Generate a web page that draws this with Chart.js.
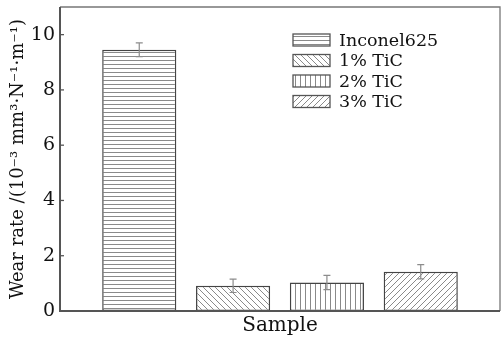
<!DOCTYPE html>
<html>
<head>
<meta charset="utf-8">
<script src="https://cdn.jsdelivr.net/npm/chart.js@4"></script>
<style>
  html, body { margin: 0; padding: 0; background: #fff; }
  #wrap { width: 503px; height: 342px; }
</style>
</head>
<body>
<div id="wrap"><canvas id="wearChart"></canvas></div>
<script>
// data
const categories = ['Sample'];
const seriesLabels = ['Inconel625', '1% TiC', '2% TiC', '3% TiC'];
const wearRate = [9.45, 0.91, 1.03, 1.42];
const wearError = [0.25, 0.24, 0.26, 0.26];
const patternKinds = ['horizontal', 'backslash', 'vertical', 'slash'];

const FONT = '"DejaVu Serif", "Liberation Serif", serif';

/**
 * Builds a small hatch tile and returns it as a canvas pattern.
 */
function makePattern(kind) {
    const size = kind === 'horizontal' ? 4 : (kind === 'vertical' ? 5 : 6);
    const c = document.createElement('canvas');
    c.width = size;
    c.height = size;
    const g = c.getContext('2d');
    g.fillStyle = '#fff';
    g.fillRect(0, 0, size, size);
    g.strokeStyle = '#8a8a8a';
    g.lineWidth = 1;
    g.beginPath();
    if (kind === 'horizontal') {
        g.moveTo(0, 0.5); g.lineTo(size, 0.5);
    } else if (kind === 'vertical') {
        g.moveTo(0.5, 0); g.lineTo(0.5, size);
    } else if (kind === 'backslash') {
        g.moveTo(-1, -1); g.lineTo(size + 1, size + 1);
        g.moveTo(-1, size - 1); g.lineTo(1, size + 1);
        g.moveTo(size - 1, -1); g.lineTo(size + 1, 1);
    } else {
        g.moveTo(-1, size + 1); g.lineTo(size + 1, -1);
        g.moveTo(-1, 1); g.lineTo(1, -1);
        g.moveTo(size - 1, size + 1); g.lineTo(size + 1, size - 1);
    }
    g.stroke();
    return g.createPattern(c, 'repeat');
}

// error bars, inward ticks, frame and the boxed legend
const decorPlugin = {
    id: 'decor',
    afterDatasetsDraw(chart) {
        const ctx = chart.ctx;
        const y = chart.scales.y;
        ctx.save();
        ctx.strokeStyle = '#8c8c8c';
        ctx.lineWidth = 1.2;
        chart.data.datasets.forEach((ds, i) => {
            const bar = chart.getDatasetMeta(i).data[0];
            const v = ds.data[0];
            const e = wearError[i];
            const top = y.getPixelForValue(v + e);
            const bot = y.getPixelForValue(v - e);
            ctx.beginPath();
            ctx.moveTo(bar.x, top); ctx.lineTo(bar.x, bot);
            ctx.moveTo(bar.x - 3.5, top); ctx.lineTo(bar.x + 3.5, top);
            ctx.moveTo(bar.x - 3.5, bot); ctx.lineTo(bar.x + 3.5, bot);
            ctx.stroke();
        });
        ctx.restore();
    },
    afterDraw(chart) {
        const ctx = chart.ctx;
        const a = chart.chartArea;
        const y = chart.scales.y;
        ctx.save();
        // frame
        ctx.strokeStyle = '#777';
        ctx.lineWidth = 1.3;
        ctx.beginPath();
        ctx.moveTo(a.left, a.top); ctx.lineTo(a.right, a.top); ctx.lineTo(a.right, a.bottom);
        ctx.stroke();
        ctx.strokeStyle = '#555';
        ctx.lineWidth = 2;
        ctx.beginPath();
        ctx.moveTo(a.left, a.top); ctx.lineTo(a.left, a.bottom); ctx.lineTo(a.right, a.bottom);
        ctx.stroke();
        // inward ticks
        ctx.lineWidth = 1.3;
        y.ticks.forEach(t => {
            const py = y.getPixelForValue(t.value);
            ctx.beginPath();
            ctx.moveTo(a.left, py); ctx.lineTo(a.left + 4, py);
            ctx.stroke();
        });
        // legend
        const lx = 293, ly = 34, row = 20.5, bw = 37, bh = 12;
        ctx.font = '17.5px ' + FONT;
        ctx.textBaseline = 'middle';
        chart.data.datasets.forEach((ds, i) => {
            const top = ly + i * row;
            ctx.fillStyle = ds.backgroundColor;
            ctx.fillRect(lx, top, bw, bh);
            ctx.strokeStyle = '#555';
            ctx.lineWidth = 1.3;
            ctx.strokeRect(lx, top, bw, bh);
            ctx.fillStyle = '#111';
            ctx.fillText(ds.label, lx + 46, top + bh / 2 + 1);
        });
        ctx.restore();
    }
};

const datasets = seriesLabels.map((label, i) => ({
    label: label,
    data: [wearRate[i]],
    backgroundColor: makePattern(patternKinds[i]),
    borderColor: '#444',
    borderWidth: 1.5,
    borderSkipped: false,
    categoryPercentage: 0.853,
    barPercentage: 0.79
}));

let ctx = document.getElementById('wearChart').getContext('2d');

let wearChart = new Chart(ctx, {
    type: 'bar',
    data: {
        labels: categories,
        datasets: datasets
    },
    options: {
        responsive: true,
        maintainAspectRatio: false,
        animation: false,
        devicePixelRatio: 1,
        layout: { padding: { top: 7, right: 3, left: 0, bottom: 0 } },
        plugins: {
            legend: { display: false },
            tooltip: { enabled: false }
        },
        scales: {
            x: {
                grid: { display: false, drawTicks: false },
                border: { display: false },
                ticks: { color: '#111', font: { family: FONT, size: 20 }, padding: 3 },
                afterFit: s => { s.height = 31; }
            },
            y: {
                min: 0,
                max: 11,
                grid: { display: false, drawTicks: false },
                border: { display: false },
                ticks: {
                    stepSize: 2,
                    includeBounds: false,
                    color: '#111',
                    padding: 5,
                    font: { family: FONT, size: 19 }
                },
                title: {
                    display: true,
                    text: 'Wear rate /(10⁻³ mm³·N⁻¹·m⁻¹)',
                    color: '#111',
                    font: { family: FONT, size: 18 },
                    padding: { top: 8, bottom: 0 }
                },
                afterFit: s => {
                    s.width = 60;
                    s.paddingTop = 0;
                    s.paddingBottom = 0;
                }
            }
        }
    },
    plugins: [decorPlugin]
});
</script>
</body>
</html>
